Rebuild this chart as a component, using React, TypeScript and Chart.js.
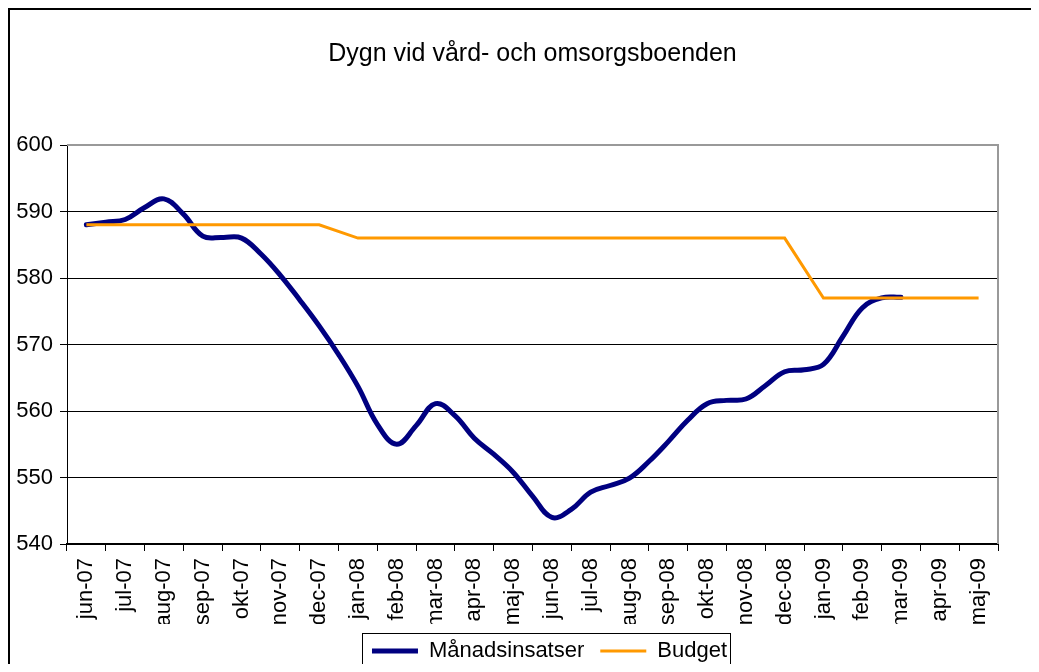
import React, { useEffect, useRef } from 'react';
import { Chart, registerables } from 'chart.js';

Chart.register(...registerables);

const FONT = "'Liberation Sans', Arial, sans-serif";

const title = 'Dygn vid vård- och omsorgsboenden';

const months = [
  'jun-07', 'jul-07', 'aug-07', 'sep-07', 'okt-07', 'nov-07', 'dec-07',
  'jan-08', 'feb-08', 'mar-08', 'apr-08', 'maj-08', 'jun-08', 'jul-08',
  'aug-08', 'sep-08', 'okt-08', 'nov-08', 'dec-08', 'jan-09', 'feb-09',
  'mar-09', 'apr-09', 'maj-09',
];

const yTicks = [540, 550, 560, 570, 580, 590, 600];

// Månadsinsatser: half-monthly readings (position = month index)
const actualPositions = [
  0, 0.5, 1, 1.5, 2, 2.5, 3, 3.5, 4, 4.5, 5, 5.5, 6, 6.5, 7, 7.5, 8, 8.5, 9, 9.5,
  10, 10.5, 11, 11.5, 12, 12.5, 13, 13.5, 14, 14.5, 15, 15.5, 16, 16.5, 17, 17.5,
  18, 18.5, 19, 19.5, 20, 20.5, 21,
];
const actualValues = [
  588.0, 588.4, 588.8, 590.6, 591.9, 589.6, 586.3, 586.1, 586.0, 583.6,
  580.4, 576.7, 572.8, 568.5, 563.7, 558.0, 555.0, 557.8, 561.1, 559.3,
  555.9, 553.5, 550.8, 547.2, 544.0, 545.2, 547.8, 548.8, 549.9, 552.4,
  555.4, 558.6, 561.1, 561.6, 561.8, 563.8, 565.9, 566.2, 567.0, 571.2,
  575.5, 577.0, 577.1,
];

const budgetValues = [
  588, 588, 588, 588, 588, 588, 588,
  586, 586, 586, 586, 586, 586, 586, 586, 586, 586, 586, 586,
  577, 577, 577, 577, 577,
];

const LEGEND_CX = 539.5;

const framePlugin = {
  id: 'frame',
  afterLayout(chart: any) {
    const lg = chart.legend;
    if (lg) {
      const d = LEGEND_CX - (lg.left + lg.right) / 2;
      lg.left += d;
      lg.right += d;
    }
  },
  beforeDatasetsDraw(chart: any) {
    const { ctx, chartArea: a } = chart;
    ctx.save();
    ctx.strokeStyle = '#999';
    ctx.lineWidth = 2;
    ctx.beginPath();
    ctx.moveTo(a.left, a.top);
    ctx.lineTo(a.right, a.top);
    ctx.lineTo(a.right, a.bottom);
    ctx.stroke();
    ctx.restore();
  },
  afterDraw(chart: any) {
    const lg = chart.legend;
    if (!lg || !lg.legendHitBoxes || !lg.legendHitBoxes.length) return;
    const hb = lg.legendHitBoxes;
    const first = hb[0];
    const last = hb[hb.length - 1];
    const { ctx } = chart;
    const x1 = Math.round(first.left - 10) + 0.5;
    const x2 = Math.round(last.left + last.width + 3) + 0.5;
    const y1 = Math.round(lg.top + 9) + 0.5;
    ctx.save();
    ctx.strokeStyle = '#000';
    ctx.lineWidth = 1;
    ctx.strokeRect(x1, y1, x2 - x1, chart.height + 20 - y1);
    ctx.restore();
  },
};

export default function App() {
  const ref = useRef<HTMLCanvasElement | null>(null);

  useEffect(() => {
    if (!ref.current) return;
    const chart = new Chart(ref.current, {
      type: 'line',
      data: {
        labels: months,
        datasets: [
          {
            label: 'Månadsinsatser',
            data: actualPositions.map((x, i) => ({ x, y: actualValues[i] })),
            borderColor: '#000080',
            backgroundColor: '#000080',
            borderWidth: 5,
            borderCapStyle: 'round',
            pointRadius: 0,
            pointStyle: 'line',
            tension: 0.4,
            xAxisID: 'xl',
            yAxisID: 'y',
            order: 1,
          } as any,
          {
            label: 'Budget',
            data: budgetValues,
            borderColor: '#FF9900',
            backgroundColor: '#FF9900',
            borderWidth: 3,
            pointRadius: 0,
            pointStyle: 'line',
            tension: 0,
            xAxisID: 'x',
            yAxisID: 'y',
            order: 0,
          } as any,
        ],
      },
      options: {
        animation: false,
        responsive: false,
        maintainAspectRatio: false,
        devicePixelRatio: 1,
        events: [],
        layout: { padding: { left: 0, right: 52, top: 0, bottom: 0 } },
        scales: {
          x: {
            type: 'category',
            position: 'bottom',
            offset: true,
            grid: {
              offset: true,
              drawOnChartArea: false,
              drawTicks: true,
              tickLength: 7,
              color: '#000',
            },
            border: { display: true, color: '#000', width: 2 },
            ticks: {
              autoSkip: false,
              minRotation: 90,
              maxRotation: 90,
              padding: 7,
              color: '#000',
              font: { family: FONT, size: 22 },
            },
            afterFit: (s: any) => {
              s.height = 80;
            },
          },
          xl: {
            type: 'linear',
            display: false,
            position: 'bottom',
            bounds: 'data',
            min: -0.5,
            max: months.length - 0.5,
          },
          y: {
            type: 'linear',
            position: 'left',
            min: yTicks[0],
            max: yTicks[yTicks.length - 1],
            afterBuildTicks: (s: any) => {
              s.ticks = yTicks.map((v) => ({ value: v }));
            },
            grid: {
              color: (c: any) => (c.tick && c.tick.value === 600 ? '#999' : '#000'),
              tickColor: '#000',
              tickLength: 7,
              lineWidth: 1,
            },
            border: { display: true, color: '#000', width: 1 },
            ticks: {
              padding: 7,
              color: '#000',
              font: { family: FONT, size: 22 },
            },
            afterFit: (s: any) => {
              s.width = 57;
            },
          },
        },
        plugins: {
          title: {
            display: true,
            text: title,
            fullSize: false,
            color: '#000',
            font: { family: FONT, size: 25, weight: 'normal' },
            padding: { top: 29, bottom: 76 },
          },
          legend: {
            display: true,
            position: 'bottom',
            labels: {
              usePointStyle: true,
              pointStyleWidth: 46,
              padding: 16,
              color: '#000',
              font: { family: FONT, size: 22 },
              sort: (a: any, b: any) => a.datasetIndex - b.datasetIndex,
            },
          },
          tooltip: { enabled: false },
        },
      } as any,
      plugins: [framePlugin],
    });
    return () => chart.destroy();
  }, []);

  return (
    <div
      style={{
        width: 1031,
        height: 664,
        overflow: 'hidden',
        borderLeft: '2px solid #000',
        borderTop: '2px solid #000',
        boxSizing: 'border-box',
        marginBottom: -8,
        background: '#fff',
      }}
    >
      <canvas ref={ref} width={1040} height={662} style={{ display: 'block' }} />
    </div>
  );
}
